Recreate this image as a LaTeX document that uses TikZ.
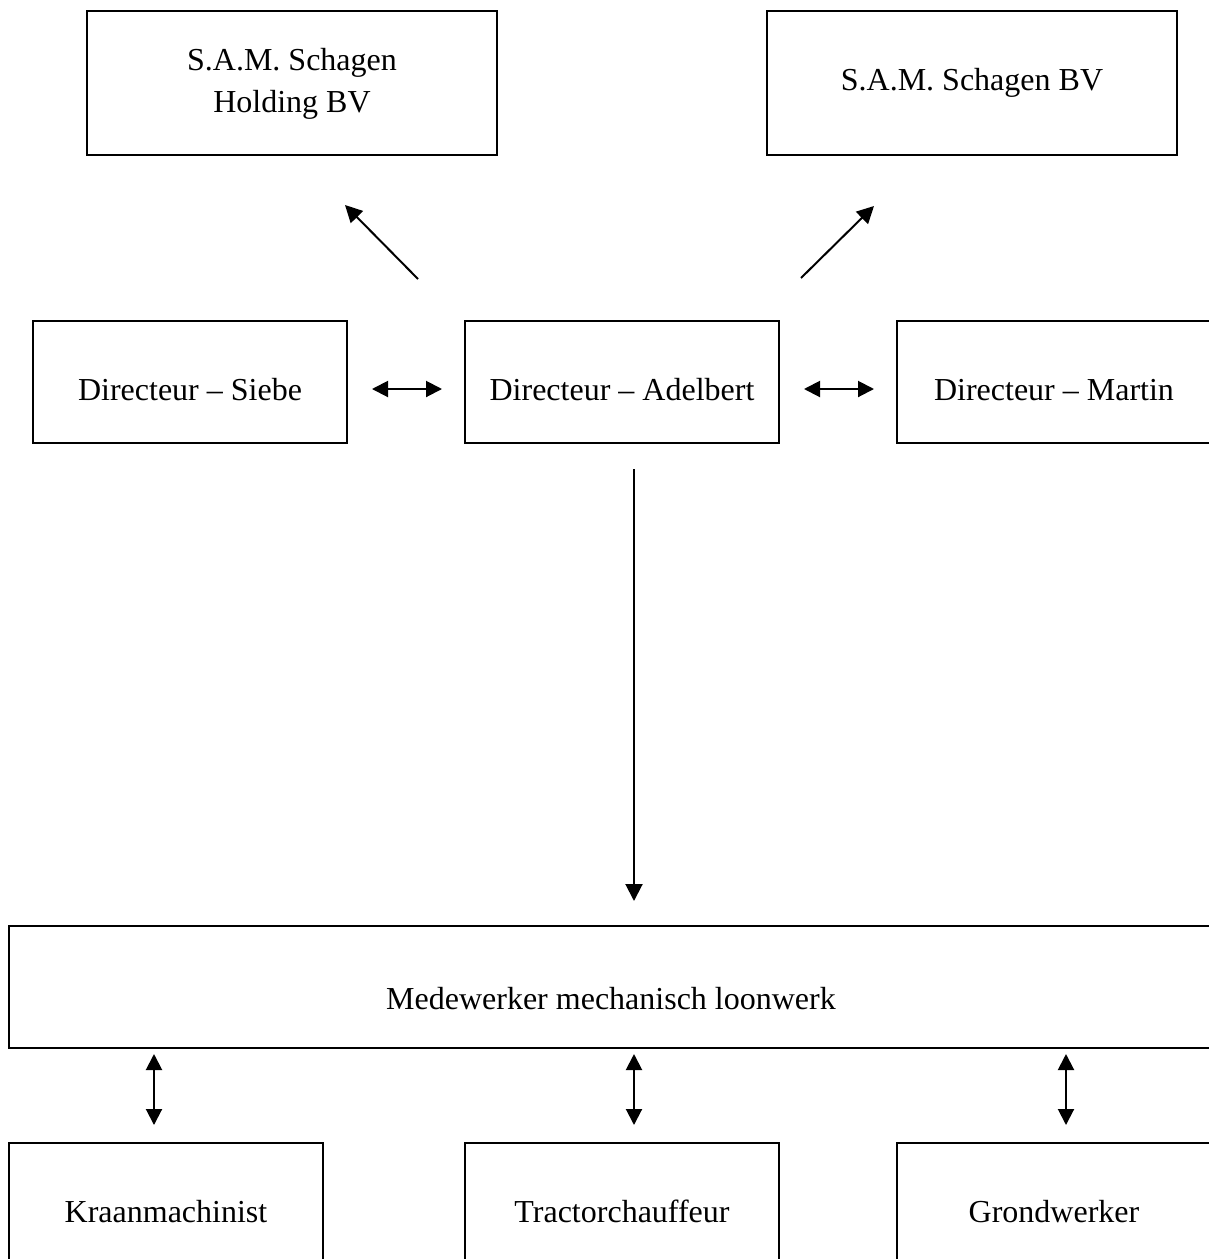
\documentclass[tikz,border=0pt]{standalone}
\usepackage{fontspec}
\setmainfont{Liberation Serif}
\usetikzlibrary{arrows.meta}
\begin{document}
\begin{tikzpicture}[x=1pt,y=1pt,
  box/.style={draw=black,line width=1.3pt,minimum width=314pt,minimum height=122pt,inner sep=0pt,align=center,font=\fontsize{32}{42}\selectfont},
  onebox/.style={box,text height=36pt,text depth=0pt},
  topbox/.style={box,minimum width=410pt,minimum height=144pt},
  arr/.style={line width=2pt,-{Triangle[length=17pt,width=17pt]}},
  darr/.style={line width=2pt,{Triangle[length=16pt,width=16pt]}-{Triangle[length=16pt,width=16pt]}}]
\useasboundingbox (0,0) rectangle (1209,-1259);
\clip (0,0) rectangle (1209,-1259);
\fill[white] (0,0) rectangle (1209,-1259);
\node[topbox] (hold) at (292,-83) {\begin{tabular}{@{}c@{}}S.A.M. Schagen\\Holding BV\end{tabular}};
\node[topbox] (bv) at (972,-83) {S.A.M. Schagen BV};
\node[onebox] (siebe) at (190,-382) {Directeur – Siebe};
\node[onebox] (adel) at (622,-382) {Directeur – Adelbert};
\node[onebox] (martin) at (1054,-382) {Directeur – Martin};
\node[onebox,minimum width=1204pt,text height=44pt] (mede) at (611,-987) {Medewerker mechanisch loonwerk};
\node[onebox] (kraan) at (166,-1204) {Kraanmachinist};
\node[onebox] (tract) at (622,-1204) {Tractorchauffeur};
\node[onebox] (grond) at (1054,-1204) {Grondwerker};
% connector end points
\coordinate (a1s) at (418,-279); \coordinate (a1e) at (345,-205);
\coordinate (a2s) at (801,-278); \coordinate (a2e) at (874,-206);
\coordinate (h1s) at (372,-389); \coordinate (h1e) at (442,-389);
\coordinate (h2s) at (804,-389); \coordinate (h2e) at (874,-389);
\coordinate (vs) at (634,-469); \coordinate (ve) at (634,-901);
\coordinate (b1s) at (154,-1054); \coordinate (b1e) at (154,-1125);
\coordinate (b2s) at (634,-1054); \coordinate (b2e) at (634,-1125);
\coordinate (b3s) at (1066,-1054); \coordinate (b3e) at (1066,-1125);
\draw[arr] (a1s) -- (a1e);
\draw[arr] (a2s) -- (a2e);
\draw[darr] (h1s) -- (h1e);
\draw[darr] (h2s) -- (h2e);
\draw[arr] (vs) -- (ve);
\draw[darr] (b1s) -- (b1e);
\draw[darr] (b2s) -- (b2e);
\draw[darr] (b3s) -- (b3e);
\end{tikzpicture}
\end{document}
